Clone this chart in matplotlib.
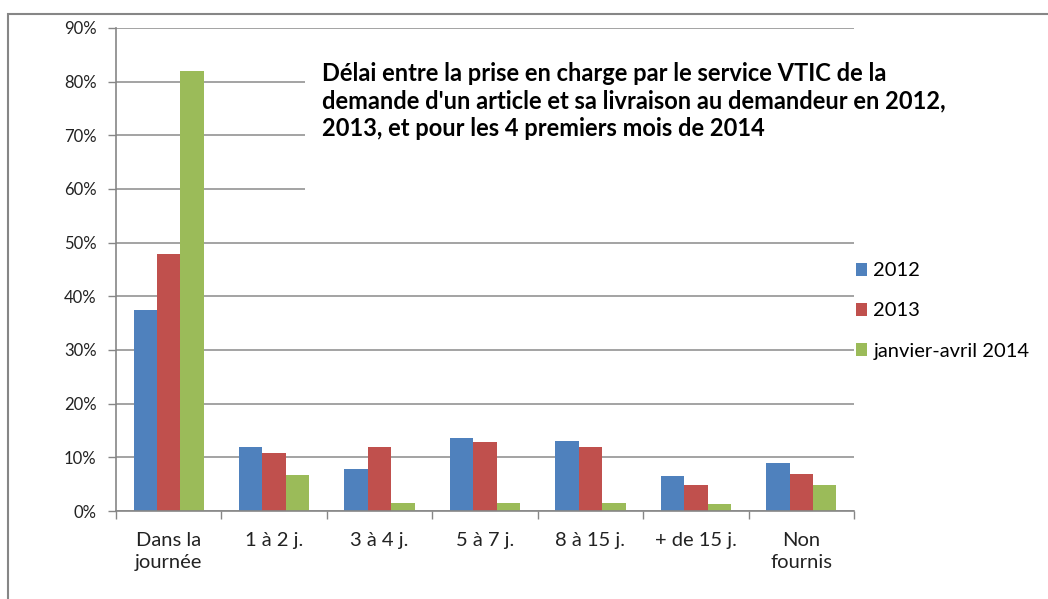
import matplotlib.pyplot as plt
import matplotlib.patches as mpatches
import numpy as np

plt.rcParams['font.family'] = ['Lato', 'DejaVu Sans']

categories = ["Dans la\njournée", "1 à 2 j.", "3 à 4 j.", "5 à 7 j.", "8 à 15 j.", "+ de 15 j.", "Non\nfournis"]
series_names = ["2012", "2013", "janvier-avril 2014"]
v2012 = [37.4, 11.9, 7.8, 13.6, 13.1, 6.5, 9.0]
v2013 = [47.9, 10.8, 11.9, 12.9, 11.9, 4.8, 6.9]
v2014 = [81.9, 6.7, 1.5, 1.5, 1.5, 1.3, 4.8]
colors = ["#4F81BD", "#C0504D", "#9BBB59"]
title = ("Délai entre la prise en charge par le service VTIC de la\n"
         "demande d'un article et sa livraison au demandeur en 2012,\n"
         "2013, et pour les 4 premiers mois de 2014")

W, H = 1048, 599
fig = plt.figure(figsize=(W / 100, H / 100), dpi=100)
ax = fig.add_axes([116 / W, 1 - 511 / H, (854 - 116) / W, (511 - 28) / H])

x = np.arange(len(categories))
bw = 1 / 4.5
for i, (vals, name, c) in enumerate(zip([v2012, v2013, v2014], series_names, colors)):
    ax.bar(x + (i - 1) * bw, np.array(vals) / 100, width=bw, color=c, label=name, zorder=2)

ax.set_xlim(-0.5, len(categories) - 0.5)
ax.set_ylim(0, 0.9)
ax.set_yticks(np.arange(0, 0.91, 0.1))
ax.set_yticklabels([f"{int(round(t * 100))}%" for t in np.arange(0, 0.91, 0.1)], fontsize=12, color="#222222")
ax.yaxis.grid(True, color="#939393", linewidth=1.2, zorder=0)
ax.set_axisbelow(True)

ax.set_xticks(np.arange(-0.5, len(categories)), minor=False)
ax.set_xticklabels([])
ax.set_xticks(x, minor=True)
ax.set_xticklabels(categories, minor=True, fontsize=14.5, color="#222222", linespacing=1.35)
ax.tick_params(axis="x", which="minor", length=0, pad=15)
ax.tick_params(axis="x", which="major", length=6, color="#868686", width=1)
ax.tick_params(axis="y", length=6, color="#868686", width=1, pad=8)

for s in ["top", "right"]:
    ax.spines[s].set_visible(False)
for s in ["left", "bottom"]:
    ax.spines[s].set_color("#868686")
    ax.spines[s].set_linewidth(1.2)

# white box behind the title, hiding the gridlines
fig.patches.append(mpatches.Rectangle((305 / W, 1 - 200 / H), 700 / W, 168 / H,
                                      transform=fig.transFigure, facecolor="white",
                                      edgecolor="none", zorder=1))
fig.text(322 / W, 1 - 62 / H, title, fontsize=17, fontweight="bold",
         va="top", ha="left", linespacing=1.25, color="black", zorder=3)

# outer chart border
fig.patches.append(mpatches.Rectangle((8 / W, -0.1), 1.2, 1.1 - 14 / H,
                                      transform=fig.transFigure, facecolor="none",
                                      edgecolor="#868686", linewidth=1.5, zorder=4))

fig.legend(loc="center left", bbox_to_anchor=(838 / W, 1 - 311 / H), frameon=False,
           fontsize=14.5, handlelength=0.55, handleheight=0.6, handletextpad=0.3,
           labelspacing=1.15)

fig.savefig("out.png", dpi=100)
